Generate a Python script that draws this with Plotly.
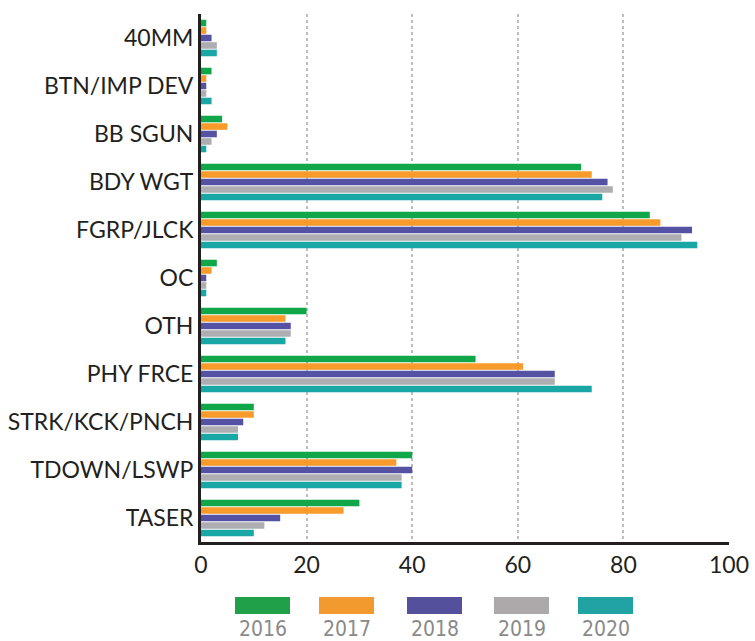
import plotly.graph_objects as go

categories = ["40MM", "BTN/IMP DEV", "BB SGUN", "BDY WGT", "FGRP/JLCK", "OC", "OTH",
              "PHY FRCE", "STRK/KCK/PNCH", "TDOWN/LSWP", "TASER"]
years = ["2016", "2017", "2018", "2019", "2020"]
v2016 = [1, 2, 4, 72, 85, 3, 20, 52, 10, 40, 30]
v2017 = [1, 1, 5, 74, 87, 2, 16, 61, 10, 37, 27]
v2018 = [2, 1, 3, 77, 93, 1, 17, 67, 8, 40, 15]
v2019 = [3, 1, 2, 78, 91, 1, 17, 67, 7, 38, 12]
v2020 = [3, 2, 1, 76, 94, 1, 16, 74, 7, 38, 10]
x_ticks = [0, 20, 40, 60, 80, 100]

series = [v2016, v2017, v2018, v2019, v2020]
bar_colors = ["#10A64A", "#F99B2A", "#5652A3", "#AEADB1", "#1BA6A6"]
legend_colors = ["#21A04A", "#F39A2E", "#54509C", "#ADA8AA", "#21A3A4"]

fig = go.Figure()
for yr, vals, col in zip(years, series, bar_colors):
    fig.add_trace(go.Bar(y=categories, x=vals, name=yr, orientation="h",
                         marker=dict(color=col, line=dict(width=0))))

label_font = "Lato, 'Open Sans', sans-serif"
fig.update_layout(
    width=755, height=641,
    margin=dict(l=201, r=26, t=14, b=99),
    paper_bgcolor="white", plot_bgcolor="white",
    barmode="group", bargap=0.22, bargroupgap=0.12,
    showlegend=False,
    xaxis=dict(range=[0, 100], tickvals=x_ticks, ticktext=[str(t) for t in x_ticks],
               showgrid=True, gridcolor="#BDBDBD", griddash="dot", gridwidth=2,
               showline=True, linecolor="#231F20", linewidth=3,
               zeroline=False, ticks="", ticklen=0, automargin=False,
               tickfont=dict(family=label_font, size=23, color="#231F20")),
    yaxis=dict(autorange="reversed", showgrid=False, showline=True,
               linecolor="#231F20", linewidth=3, ticks="", ticklen=0,
               automargin=False, ticklabelstandoff=0,
               tickfont=dict(family=label_font, size=23, color="#231F20")),
)

# Custom legend: swatches with year labels below
sw_left = [235, 319, 407, 494, 578]
plot_w = 755 - 201 - 26
plot_h = 641 - 14 - 99
for yr, col, xl in zip(years, legend_colors, sw_left):
    x0 = (xl - 201) / plot_w
    x1 = (xl + 55 - 201) / plot_w
    y0 = (542 - 614) / plot_h
    y1 = (542 - 597) / plot_h
    fig.add_shape(type="rect", xref="paper", yref="paper", x0=x0, x1=x1, y0=y0, y1=y1,
                  fillcolor=col, line=dict(width=0))
    fig.add_annotation(xref="paper", yref="paper", x=(x0 + x1) / 2, y=(542 - 629) / plot_h,
                       text=yr, showarrow=False, yanchor="middle", xanchor="center",
                       font=dict(family="'DejaVu Sans Condensed', 'Liberation Sans Narrow', Roboto, sans-serif",
                                 size=21, color="#8A8A8A"))

fig.write_html("out.html", config={"displayModeBar": False},
               post_script="document.body.style.margin='0';")
